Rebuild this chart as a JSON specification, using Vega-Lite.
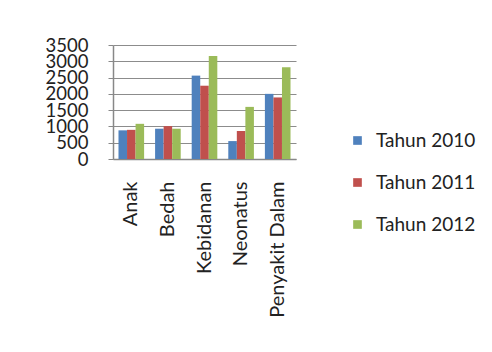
{
  "$schema": "https://vega.github.io/schema/vega-lite/v6.json",
  "autosize": {"type": "none"},
  "width": 183,
  "height": 114,
  "padding": {"left": 113, "top": 45, "right": 196, "bottom": 193},
  "background": "white",
  "config": {
    "view": {"stroke": null},
    "font": "Lato"
  },
  "data": {
    "values": [
      {"kategori": "Anak", "tahun": "Tahun 2010", "nilai": 880},
      {"kategori": "Anak", "tahun": "Tahun 2011", "nilai": 895},
      {"kategori": "Anak", "tahun": "Tahun 2012", "nilai": 1080},
      {"kategori": "Bedah", "tahun": "Tahun 2010", "nilai": 930},
      {"kategori": "Bedah", "tahun": "Tahun 2011", "nilai": 1010},
      {"kategori": "Bedah", "tahun": "Tahun 2012", "nilai": 930},
      {"kategori": "Kebidanan", "tahun": "Tahun 2010", "nilai": 2560},
      {"kategori": "Kebidanan", "tahun": "Tahun 2011", "nilai": 2250},
      {"kategori": "Kebidanan", "tahun": "Tahun 2012", "nilai": 3160},
      {"kategori": "Neonatus", "tahun": "Tahun 2010", "nilai": 550},
      {"kategori": "Neonatus", "tahun": "Tahun 2011", "nilai": 860},
      {"kategori": "Neonatus", "tahun": "Tahun 2012", "nilai": 1600},
      {"kategori": "Penyakit Dalam", "tahun": "Tahun 2010", "nilai": 2000},
      {"kategori": "Penyakit Dalam", "tahun": "Tahun 2011", "nilai": 1890},
      {"kategori": "Penyakit Dalam", "tahun": "Tahun 2012", "nilai": 2820}
    ]
  },
  "mark": {"type": "bar", "stroke": null},
  "encoding": {
    "x": {
      "field": "kategori",
      "type": "nominal",
      "sort": null,
      "scale": {"paddingInner": 0.3, "paddingOuter": 0.15},
      "axis": {
        "title": null,
        "labelAngle": -90,
        "labelAlign": "right",
        "labelBaseline": "middle",
        "labelFontSize": 20,
        "labelColor": "#222",
        "labelPadding": 22,
        "labelOverlap": false,
        "labelLimit": 300,
        "ticks": false,
        "domainColor": "#888",
        "domainWidth": 1.5
      }
    },
    "xOffset": {"field": "tahun", "type": "nominal", "sort": null},
    "y": {
      "field": "nilai",
      "type": "quantitative",
      "scale": {"domain": [0, 3500], "nice": false},
      "axis": {
        "title": null,
        "values": [0, 500, 1000, 1500, 2000, 2500, 3000, 3500],
        "format": "d",
        "labelOverlap": false,
        "labelFlush": false,
        "labelFontSize": 18.5,
        "labelColor": "#222",
        "labelPadding": 20,
        "tickColor": "#888",
        "tickSize": 5,
        "domainColor": "#888",
        "domainWidth": 1.5,
        "gridColor": "#8c8c8c",
        "gridWidth": 1.2
      }
    },
    "color": {
      "field": "tahun",
      "type": "nominal",
      "scale": {
        "domain": ["Tahun 2010", "Tahun 2011", "Tahun 2012"],
        "range": ["#4F81BD", "#C0504D", "#9BBB59"]
      },
      "legend": {
        "title": null,
        "orient": "none",
        "legendX": 235,
        "legendY": 86,
        "symbolType": "square",
        "symbolSize": 75,
        "symbolStrokeWidth": 0,
        "labelFontSize": 19,
        "labelColor": "#222",
        "rowPadding": 22,
        "labelOffset": 9
      }
    }
  }
}
